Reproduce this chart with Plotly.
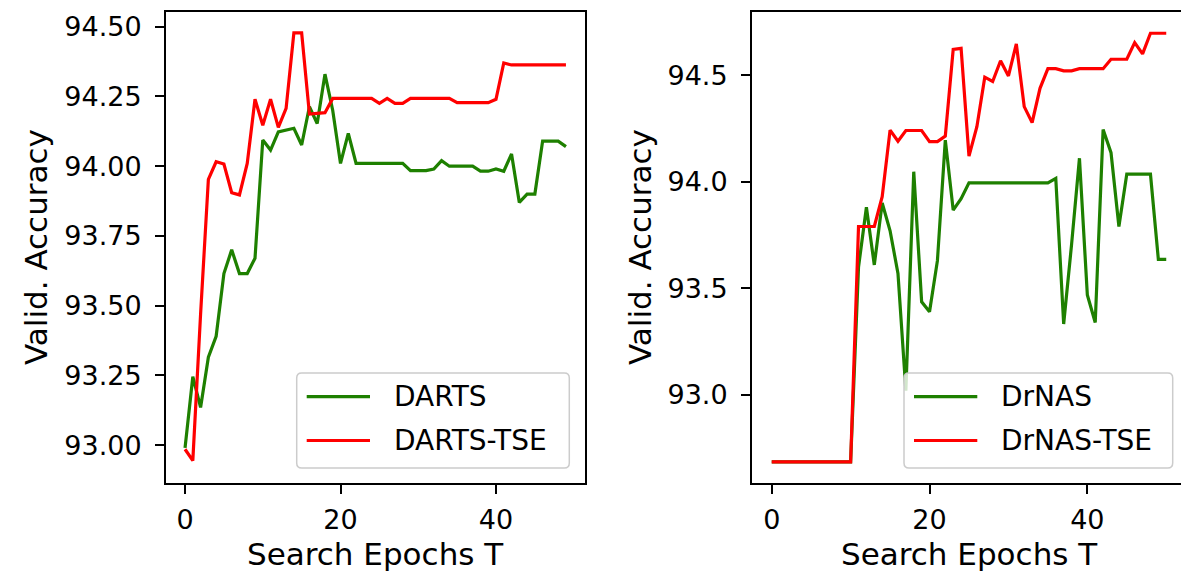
import plotly.graph_objects as go

# ---------------- data ----------------
epochs_darts = list(range(50))
darts = [92.99, 93.245, 93.135, 93.315, 93.39, 93.615, 93.70, 93.615, 93.615, 93.67,
         94.094, 94.058, 94.123, 94.13, 94.136, 94.076, 94.213, 94.153, 94.33, 94.20,
         94.01, 94.118, 94.01, 94.01, 94.01, 94.01, 94.01, 94.01, 94.01, 93.984,
         93.984, 93.984, 93.99, 94.02, 94.0, 94.0, 94.0, 94.0, 93.982, 93.982,
         93.99, 93.982, 94.044, 93.87, 93.90, 93.90, 94.09, 94.09, 94.09, 94.07]
darts_tse = [92.985, 92.944, 93.47, 93.953, 94.016, 94.008, 93.905, 93.897, 94.010, 94.240,
             94.147, 94.240, 94.139, 94.207, 94.478, 94.478, 94.187, 94.190, 94.192, 94.243,
             94.243, 94.243, 94.243, 94.243, 94.243, 94.225, 94.243, 94.225, 94.225, 94.243,
             94.243, 94.243, 94.243, 94.243, 94.243, 94.228, 94.228, 94.228, 94.228, 94.228,
             94.240, 94.370, 94.363, 94.363, 94.363, 94.363, 94.363, 94.363, 94.363, 94.363]

epochs_drnas = list(range(51))
drnas = [92.687, 92.687, 92.687, 92.687, 92.687, 92.687, 92.687, 92.687, 92.687, 92.687,
         92.687, 93.60, 93.88, 93.61, 93.90, 93.77, 93.57, 93.02, 94.047, 93.437,
         93.39, 93.63, 94.195, 93.867, 93.92, 93.995, 93.995, 93.995, 93.995, 93.995,
         93.995, 93.995, 93.995, 93.995, 93.995, 93.995, 94.016, 93.333, 93.705, 94.11,
         93.469, 93.34, 94.245, 94.136, 93.79, 94.036, 94.036, 94.036, 94.036, 93.636,
         93.636]
drnas_tse = [92.687, 92.687, 92.687, 92.687, 92.687, 92.687, 92.687, 92.687, 92.687, 92.687,
             92.687, 93.79, 93.79, 93.79, 93.93, 94.242, 94.19, 94.24, 94.24, 94.24,
             94.188, 94.188, 94.214, 94.62, 94.625, 94.12, 94.258, 94.49, 94.47, 94.567,
             94.496, 94.646, 94.352, 94.277, 94.438, 94.53, 94.53, 94.52, 94.52, 94.53,
             94.53, 94.53, 94.53, 94.574, 94.574, 94.574, 94.652, 94.599, 94.696, 94.696,
             94.696]

x_ticks = [0, 20, 40]
left_y_ticks = [93.00, 93.25, 93.50, 93.75, 94.00, 94.25, 94.50]
right_y_ticks = [93.0, 93.5, 94.0, 94.5]

left_names = ["DARTS", "DARTS-TSE"]
right_names = ["DrNAS", "DrNAS-TSE"]

# ---------------- style ----------------
W, H = 1181, 573
GREEN = "#1e8000"
RED = "#ff0000"
FONT = "DejaVu Sans"
TICK_SIZE = 27
TITLE_SIZE = 31
LEG_SIZE = 28
LW = 3.2

def px(x):
    return x / W

def py(y):
    return 1 - y / H

fig = go.Figure()
fig.add_trace(go.Scatter(x=epochs_darts, y=darts, mode="lines", name=left_names[0],
                         line=dict(color=GREEN, width=LW), xaxis="x", yaxis="y", showlegend=False))
fig.add_trace(go.Scatter(x=epochs_darts, y=darts_tse, mode="lines", name=left_names[1],
                         line=dict(color=RED, width=LW), xaxis="x", yaxis="y", showlegend=False))
fig.add_trace(go.Scatter(x=epochs_drnas, y=drnas, mode="lines", name=right_names[0],
                         line=dict(color=GREEN, width=LW), xaxis="x2", yaxis="y2", showlegend=False))
fig.add_trace(go.Scatter(x=epochs_drnas, y=drnas_tse, mode="lines", name=right_names[1],
                         line=dict(color=RED, width=LW), xaxis="x2", yaxis="y2", showlegend=False))

axis_common = dict(showgrid=False, zeroline=False, showline=True, linecolor="black", linewidth=2,
                   ticks="outside", ticklen=9, tickwidth=2, tickcolor="black",
                   tickfont=dict(family=FONT, size=TICK_SIZE, color="black"))

y_dom = [py(482.7), py(11.7)]
fig.update_layout(
    width=W, height=H, margin=dict(l=0, r=0, t=0, b=0),
    paper_bgcolor="white", plot_bgcolor="white",
    font=dict(family=FONT, color="black"),
    xaxis=dict(domain=[px(166), px(585)], range=[-2.45, 51.45], tickvals=x_ticks,
               mirror=True, anchor="y", ticklabelstandoff=3, **axis_common),
    yaxis=dict(domain=y_dom, range=[92.865, 94.554], tickvals=left_y_ticks, tickformat=".2f",
               mirror=True, anchor="x", ticklabelstandoff=8, **axis_common),
    xaxis2=dict(domain=[px(752), 1.0], range=[-2.5, 51.87], tickvals=x_ticks,
                mirror=True, anchor="y2", ticklabelstandoff=3, **axis_common),
    yaxis2=dict(domain=y_dom, range=[92.589, 94.797], tickvals=right_y_ticks, tickformat=".1f",
                mirror=False, anchor="x2", ticklabelstandoff=8, **axis_common),
)

shapes = []
annotations = []

def rounded_box(x0, y0, x1, y1, r=5):
    rx, ry = r / W, r / H
    X0, X1 = px(x0), px(x1)
    Ytop, Ybot = py(y0), py(y1)
    return (f"M {X0+rx},{Ytop} L {X1-rx},{Ytop} Q {X1},{Ytop} {X1},{Ytop-ry} "
            f"L {X1},{Ybot+ry} Q {X1},{Ybot} {X1-rx},{Ybot} "
            f"L {X0+rx},{Ybot} Q {X0},{Ybot} {X0},{Ybot+ry} "
            f"L {X0},{Ytop-ry} Q {X0},{Ytop} {X0+rx},{Ytop} Z")

def add_legend(box, line_x, text_x, ys, names):
    shapes.append(dict(type="path", xref="paper", yref="paper", path=rounded_box(*box),
                       fillcolor="rgba(255,255,255,0.8)", line=dict(color="#cccccc", width=1.5),
                       layer="above"))
    for y, name, col in zip(ys, names, [GREEN, RED]):
        shapes.append(dict(type="line", xref="paper", yref="paper",
                           x0=px(line_x[0]), x1=px(line_x[1]), y0=py(y), y1=py(y),
                           line=dict(color=col, width=LW), layer="above"))
        annotations.append(dict(text=name, xref="paper", yref="paper", x=px(text_x), y=py(y),
                                xanchor="left", yanchor="middle", showarrow=False,
                                font=dict(family=FONT, size=LEG_SIZE, color="black")))

add_legend((296.7, 373, 569.3, 468), (306.7, 370), 392, (396.7, 440.5), left_names)
add_legend((904, 373, 1172.7, 468), (914, 977.3), 998.5, (396.7, 440.5), right_names)

# axis titles
for xc in (36, 640):
    annotations.append(dict(text="Valid. Accuracy", xref="paper", yref="paper", x=px(xc), y=py(247),
                            xanchor="center", yanchor="middle", textangle=-90, showarrow=False,
                            font=dict(family=FONT, size=TITLE_SIZE, color="black")))
for xc in (375.5, 969):
    annotations.append(dict(text="Search Epochs T", xref="paper", yref="paper", x=px(xc), y=py(554),
                            xanchor="center", yanchor="middle", showarrow=False,
                            font=dict(family=FONT, size=TITLE_SIZE, color="black")))

fig.update_layout(shapes=shapes, annotations=annotations)
fig.write_html("out.html")
